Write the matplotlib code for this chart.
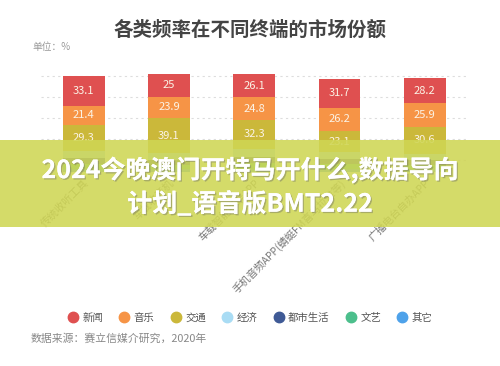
import matplotlib
matplotlib.use("Agg")
import matplotlib.pyplot as plt
from matplotlib.lines import Line2D
from matplotlib.patches import Rectangle
import matplotlib.patheffects as pe
import numpy as np

plt.rcParams['font.family'] = ['Noto Sans CJK SC', 'DejaVu Sans']

categories = ["传统收听工具", "车载收音机", "车载智能终端APP",
              "手机音频APP(蜻蜓FM喜马拉雅等)", "广播电台自办APP"]
series_names = ["新闻", "音乐", "交通", "经济", "都市生活", "文艺", "其它"]
news = [33.1, 25, 26.1, 31.7, 28.2]
music = [21.4, 23.9, 24.8, 26.2, 25.9]
traffic = [29.3, 39.1, 32.3, 23.1, 30.6]
economy = [7.8, 6.9, 8.6, 7.4, 6.5]
city_life = [6.4, 5.8, 7.3, 6.2, 5.6]
arts = [5.1, 4.6, 5.9, 5.0, 4.3]
others = [3.6, 3.3, 3.9, 3.7, 3.3]
colors = ["#df5050", "#f69446", "#cbb83a", "#a9dcf4", "#3f5a96", "#4cbf8c", "#4ea2ea"]

title = "各类频率在不同终端的市场份额"
unit_text = "单位：%"
source_text = "数据来源：赛立信媒介研究，2020年"
overlay_lines = ["2024今晚澳门开特马开什么,数据导向", "计划_语音版BMT2.22"]

fig = plt.figure(figsize=(5.0, 3.66), dpi=100)
ax = fig.add_axes([0.082, 0.530, 0.853, 0.283])

x = np.arange(len(categories))
layers = [(others, colors[6]), (arts, colors[5]), (city_life, colors[4]),
          (economy, colors[3]), (traffic, colors[2]), (music, colors[1]), (news, colors[0])]
bottom = np.zeros(len(categories))
for vals, col in layers:
    v = np.array(vals, dtype=float)
    bars = ax.bar(x, v, 0.49, bottom=bottom, color=col, zorder=3)
    if col in colors[:3]:
        ax.bar_label(bars, labels=[f"{t:g}" for t in vals], label_type='center',
                     color='#fbf3e6', fontsize=8, zorder=4)
    bottom += v

ax.set_xlim(-0.5, len(categories) - 0.5)
ax.set_ylim(0, 115)
ax.set_yticks(np.arange(13.3, 110, 23.3))
ax.set_yticklabels([])
ax.tick_params(axis='y', length=0)
ax.grid(axis='y', color='#dddddd', linestyle=(0, (2, 3)), linewidth=0.8, zorder=0)
for s in ax.spines.values():
    s.set_visible(False)
ax.set_xticks(x)
ax.set_xticklabels(categories, rotation=45, ha='right', rotation_mode='anchor',
                   fontsize=7.5, color='#777777')
ax.tick_params(axis='x', length=0, pad=4)

fig.text(0.5, 0.918, title, ha='center', va='center', fontsize=14,
         fontweight='bold', color='#444444')
fig.text(0.064, 0.872, unit_text, ha='left', va='center', fontsize=7, color='#999999')

handles = [Line2D([], [], marker='o', linestyle='', markersize=7.5,
                  markerfacecolor=c, markeredgecolor=c) for c in colors]
fig.legend(handles, series_names, loc='center', bbox_to_anchor=(0.5, 0.131), ncol=7,
           frameon=False, fontsize=7.5, handletextpad=0.4, columnspacing=1.55,
           labelcolor='#555555', handlelength=1.0)
fig.text(0.062, 0.074, source_text, ha='left', va='center', fontsize=7.8, color='#888888')

# overlay band
fig.patches.append(Rectangle((0, 1 - 227 / 366), 1, 87 / 366, transform=fig.transFigure,
                             facecolor=(0.81, 0.84, 0.33), alpha=0.88, zorder=10,
                             edgecolor='none'))
shadow = [pe.withSimplePatchShadow(offset=(1, -1), shadow_rgbFace='#666666', alpha=0.4),
          pe.Normal()]
fig.text(0.5, 1 - 170 / 366, overlay_lines[0], ha='center', va='center', fontsize=18,
         fontweight='bold', color='white', zorder=11, path_effects=shadow)
fig.text(0.5, 1 - 204 / 366, overlay_lines[1], ha='center', va='center', fontsize=18,
         fontweight='bold', color='white', zorder=11, path_effects=shadow)

fig.savefig("out.png", dpi=100)
